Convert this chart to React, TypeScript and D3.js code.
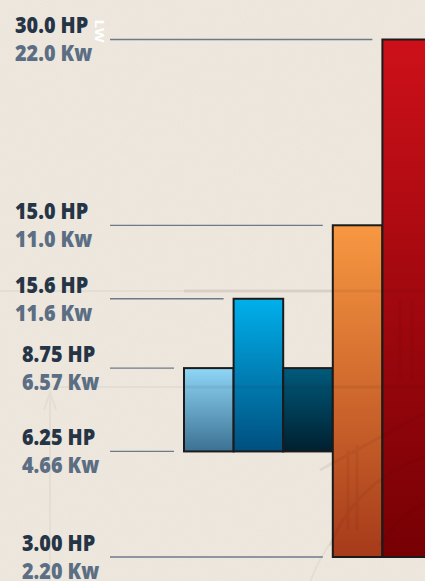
import React from "react";
import * as d3 from "d3";

// ---- data ----
const hpLabels = ["30.0 HP", "15.0 HP", "15.6 HP", "8.75 HP", "6.25 HP", "3.00 HP"];
const kwLabels = ["22.0 Kw", "11.0 Kw", "11.6 Kw", "6.57 Kw", "4.66 Kw", "2.20 Kw"];
// position of each label on the chart's (non-proportional) visual level axis, 0..100
const levelValues = [100, 64.1, 49.9, 36.5, 20.4, 0];

const barNames = ["light", "mid", "dark", "orange", "red"];
const barLow = [20.4, 20.4, 20.4, 0, 0];
const barHigh = [36.5, 49.9, 36.5, 64.1, 100];
const barTop = ["#8fd6f6", "#00b0ec", "#005a7c", "#f89841", "#cd1019"];
const barBottom = ["#3c7193", "#004f7e", "#00202f", "#a63a1a", "#760004"];

const W = 425;
const H = 581;

export default function App() {
  const y = d3.scaleLinear().domain([0, 100]).range([557, 39.5]);
  const x = d3.scaleBand<string>().domain(barNames).range([184, 432]).padding(0);

  const lineStart = 110;
  const lineEnds = levelValues.map((lv) => {
    const xs = barNames
      .filter((_, i) => barLow[i] === lv || barHigh[i] === lv)
      .map((n) => x(n) as number);
    return (d3.min(xs) as number) - 10;
  });

  const arc = d3.arc();

  return (
    <svg
      width={W}
      height={H}
      style={{ position: "absolute", left: 0, top: 0, display: "block" }}
    >
      <defs>
        {barNames.map((n, i) => (
          <linearGradient key={n} id={`g-${n}`} x1="0" y1="0" x2="0" y2="1">
            <stop offset="0%" stopColor={barTop[i]} />
            <stop offset="100%" stopColor={barBottom[i]} />
          </linearGradient>
        ))}
        <filter id="paper" x="0" y="0" width="100%" height="100%">
          <feTurbulence type="fractalNoise" baseFrequency="0.9" numOctaves="2" seed="3" result="n" />
          <feColorMatrix
            in="n"
            type="matrix"
            values="0 0 0 0 0.55  0 0 0 0 0.5  0 0 0 0 0.45  0 0 0 -1.2 0.75"
          />
        </filter>
      </defs>

      <rect width={W} height={H} fill="#ede7de" />
      <rect width={W} height={H} filter="url(#paper)" opacity={0.1} />

      {/* faint background sketch */}
      <g stroke="#6d6258" fill="none" opacity={0.06} strokeWidth={2}>
        <line x1={0} x2={W} y1={291} y2={291} />
        <line x1={40} x2={W} y1={387} y2={387} />
        <line x1={50} x2={50} y1={392} y2={H} />
        <path d="M44,410 L50,392 L56,410" />
        <path
          d={arc({ innerRadius: 170, outerRadius: 170, startAngle: -1.4, endAngle: -0.6 }) as string}
          transform="translate(470,640)"
        />
      </g>

      {/* gridlines */}
      <g stroke="#6e7a88" strokeWidth={1.3}>
        {levelValues.map((lv, i) => (
          <line key={i} x1={lineStart} x2={lineEnds[i]} y1={y(lv)} y2={y(lv)} />
        ))}
      </g>

      {/* bars */}
      <g stroke="#1c1a1a" strokeWidth={2}>
        {barNames.map((n, i) => (
          <rect
            key={n}
            x={x(n)}
            y={y(barHigh[i])}
            width={x.bandwidth()}
            height={y(barLow[i]) - y(barHigh[i])}
            fill={`url(#g-${n})`}
          />
        ))}
      </g>

      {/* sketch overlay on bars */}
      <g stroke="#3a1a10" fill="none" opacity={0.07} strokeWidth={3}>
        <line x1={184} x2={W} y1={291} y2={291} />
        <line x1={184} x2={W} y1={387} y2={387} />
        <path
          d={arc({ innerRadius: 150, outerRadius: 150, startAngle: -1.2, endAngle: 0.2 }) as string}
          transform="translate(470,600)"
        />
        <path
          d={arc({ innerRadius: 120, outerRadius: 120, startAngle: -1.0, endAngle: 0.1 }) as string}
          transform="translate(480,610)"
        />
        <line x1={348} x2={348} y1={450} y2={530} />
        <line x1={357} x2={357} y1={445} y2={530} />
        <line x1={400} x2={400} y1={300} y2={380} />
        <line x1={412} x2={412} y1={300} y2={380} />
        <line x1={320} x2={430} y1={470} y2={410} />
      </g>

      {/* labels */}
      <g fontFamily="'Open Sans', 'Noto Sans', sans-serif" fontWeight={800} fontSize={23}>
        {hpLabels.map((t, i) => {
          const lx = i < 3 ? 15 : 22;
          const ly = y(levelValues[i]);
          return (
            <g key={t} transform={`translate(${lx},0) scale(0.86,1)`}>
              <text x={0} y={ly - 6} fill="#253546">
                {t}
              </text>
              <text x={0} y={ly + 22} fill="#5b6e83">
                {kwLabels[i]}
              </text>
            </g>
          );
        })}
      </g>

      <text
        transform="translate(95,31) rotate(90)"
        textAnchor="middle"
        fill="#ffffff"
        fontFamily="'Open Sans', sans-serif"
        fontWeight={700}
        fontSize={13}
        textLength={23}
        lengthAdjust="spacingAndGlyphs"
      >
        LW
      </text>
    </svg>
  );
}
